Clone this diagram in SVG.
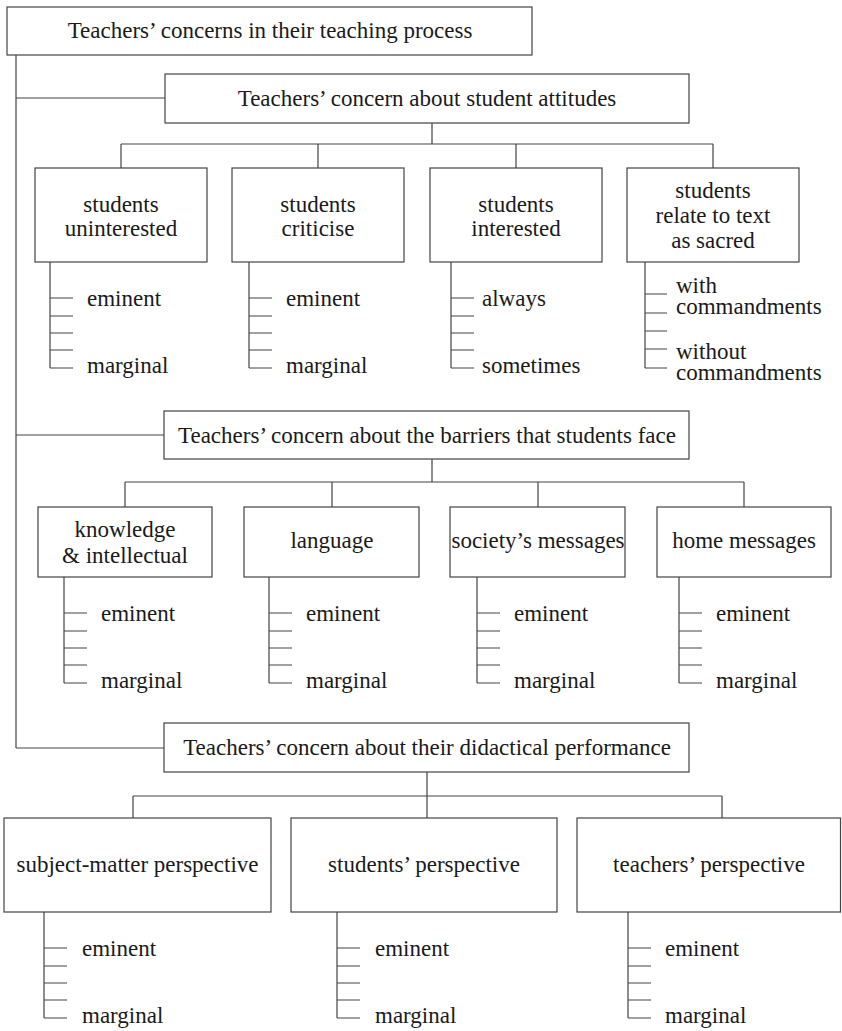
<svg xmlns="http://www.w3.org/2000/svg" xmlns:xlink="http://www.w3.org/1999/xlink" width="842" height="1031" viewBox="0 0 842 1031">
<style>
.box{fill:#fff;stroke:#444;stroke-width:1.2}
.ln{stroke:#444;stroke-width:1.2;fill:none}
text{font-family:"Liberation Serif","Times New Roman",serif;font-size:23px;fill:#1a1a1a}
.c{text-anchor:middle}
</style>
<defs>
<g id="ticks" class="ln">
<path d="M0,0V106M0,36H23M0,54H23M0,71H23M0,88H23M0,106H23"/>
</g>
</defs>
<rect width="842" height="1031" fill="#fff"/>
<g id="connectors" class="ln">
<path d="M16,55V748M16,98H165M16,435H164M16,748H164"/>
<path d="M432,123V144M121,144H713M121,144V168M318,144V168M516,144V168M713,144V168"/>
<path d="M432,459V482M125,482H744M125,482V507M332,482V507M538,482V507M744,482V507"/>
<path d="M427,772V818M133,796H722M133,796V818M722,796V818"/>
</g>
<g id="root">
<rect class="box" x="7" y="7" width="525" height="48"/>
<text class="c" x="270" y="38">Teachers’ concerns in their teaching process</text>
</g>
<g id="attitudes">
<rect class="box" x="165" y="74" width="524" height="49"/>
<text class="c" x="427" y="106">Teachers’ concern about student attitudes</text>
</g>
<g id="uninterested">
<rect class="box" x="35" y="168" width="172" height="94"/>
<text class="c" x="121" y="212">students</text>
<text class="c" x="121" y="236">uninterested</text>
<use xlink:href="#ticks" x="50" y="262"/>
<text x="87" y="306">eminent</text>
<text x="87" y="373">marginal</text>
</g>
<g id="criticise">
<rect class="box" x="232" y="168" width="172" height="94"/>
<text class="c" x="318" y="212">students</text>
<text class="c" x="318" y="236">criticise</text>
<use xlink:href="#ticks" x="249" y="262"/>
<text x="286" y="306">eminent</text>
<text x="286" y="373">marginal</text>
</g>
<g id="interested">
<rect class="box" x="430" y="168" width="172" height="94"/>
<text class="c" x="516" y="212">students</text>
<text class="c" x="516" y="236">interested</text>
<use xlink:href="#ticks" x="451" y="262"/>
<text x="482" y="306">always</text>
<text x="482" y="373">sometimes</text>
</g>
<g id="sacred">
<rect class="box" x="627" y="168" width="172" height="94"/>
<text class="c" x="713" y="198">students</text>
<text class="c" x="713" y="223">relate to text</text>
<text class="c" x="713" y="248">as sacred</text>
<g class="ln"><path d="M645,262V368M645,294H667M645,313H667M645,331H667M645,349H667M645,368H667"/></g>
<text x="676" y="293">with</text>
<text x="676" y="314">commandments</text>
<text x="676" y="359">without</text>
<text x="676" y="380">commandments</text>
</g>
<g id="barriers">
<rect class="box" x="164" y="411" width="525" height="48"/>
<text class="c" x="427" y="443">Teachers’ concern about the barriers that students face</text>
</g>
<g id="knowledge">
<rect class="box" x="38" y="507" width="174" height="70"/>
<text class="c" x="125" y="537">knowledge</text>
<text class="c" x="125" y="563">&amp; intellectual</text>
<use xlink:href="#ticks" x="64" y="577"/>
<text x="101" y="621">eminent</text>
<text x="101" y="688">marginal</text>
</g>
<g id="language">
<rect class="box" x="244" y="507" width="175" height="70"/>
<text class="c" x="332" y="548">language</text>
<use xlink:href="#ticks" x="269" y="577"/>
<text x="306" y="621">eminent</text>
<text x="306" y="688">marginal</text>
</g>
<g id="society">
<rect class="box" x="450" y="507" width="175" height="70"/>
<text class="c" x="538" y="548">society’s messages</text>
<use xlink:href="#ticks" x="477" y="577"/>
<text x="514" y="621">eminent</text>
<text x="514" y="688">marginal</text>
</g>
<g id="home">
<rect class="box" x="657" y="507" width="174" height="70"/>
<text class="c" x="744" y="548">home messages</text>
<use xlink:href="#ticks" x="679" y="577"/>
<text x="716" y="621">eminent</text>
<text x="716" y="688">marginal</text>
</g>
<g id="didactical">
<rect class="box" x="164" y="723" width="525" height="49"/>
<text class="c" x="427" y="755">Teachers’ concern about their didactical performance</text>
</g>
<g id="subject">
<rect class="box" x="4" y="818" width="267" height="94"/>
<text class="c" x="137.5" y="872">subject-matter perspective</text>
<use xlink:href="#ticks" x="44" y="912"/>
<text x="82" y="956">eminent</text>
<text x="82" y="1023">marginal</text>
</g>
<g id="students">
<rect class="box" x="291" y="818" width="266" height="94"/>
<text class="c" x="424" y="872">students’ perspective</text>
<use xlink:href="#ticks" x="337" y="912"/>
<text x="375" y="956">eminent</text>
<text x="375" y="1023">marginal</text>
</g>
<g id="teachers">
<rect class="box" x="577" y="818" width="263.5" height="94"/>
<text class="c" x="709" y="872">teachers’ perspective</text>
<use xlink:href="#ticks" x="628" y="912"/>
<text x="665" y="956">eminent</text>
<text x="665" y="1023">marginal</text>
</g>
</svg>
